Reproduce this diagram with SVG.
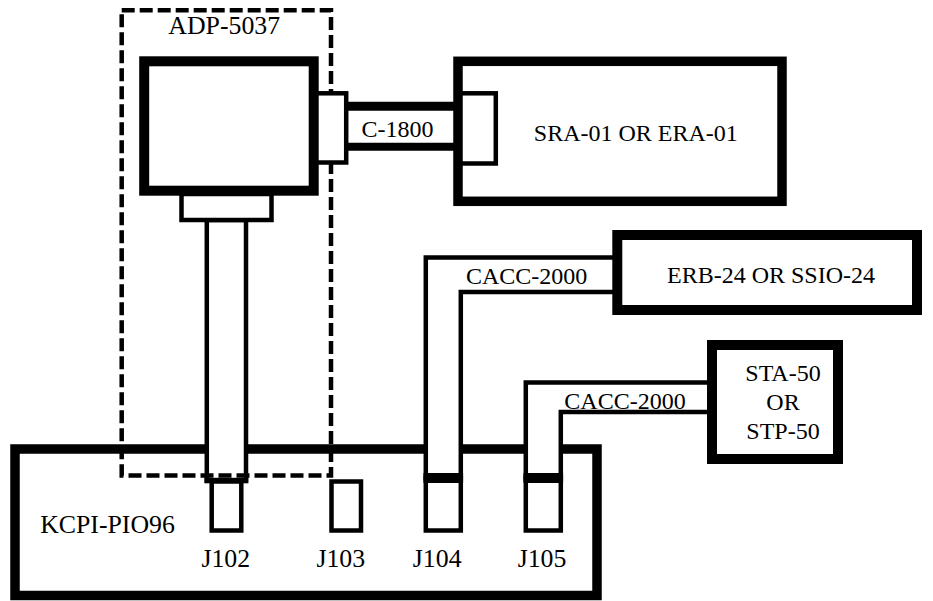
<svg xmlns="http://www.w3.org/2000/svg" width="933" height="601" viewBox="0 0 933 601">
<style>
.thick{fill:#fff;stroke:#000;stroke-width:10}
.thin{fill:#fff;stroke:#000;stroke-width:4.5}
.open{fill:none;stroke:#000;stroke-width:4.5}
.dash{fill:none;stroke:#000;stroke-width:4.5;stroke-dasharray:13 5}
text{font-family:"Liberation Serif","DejaVu Serif",serif;fill:#000;text-anchor:middle}
.t{font-size:24px}
.tb{font-size:25.8px}
</style>
<rect width="933" height="601" fill="#fff"/>
<g id="kcpi-pio96">
  <rect class="thick" x="15" y="449" width="582" height="146.5" style="stroke-width:9.5"/>
  <text class="tb" x="107.5" y="532.5">KCPI-PIO96</text>
</g>
<g id="connectors">
  <rect class="thin" x="206.8" y="220" width="39.2" height="260.5"/>
  <rect x="204.5" y="477.8" width="43.8" height="5.5" fill="#000"/>
  <polygon class="thin" points="425.8,478 425.8,257.5 617,257.5 617,292 460.8,292 460.8,478"/>
  <text class="t" x="526.7" y="284">CACC-2000</text>
  <polygon class="thin" points="525.8,478 525.8,382.5 712,382.5 712,412 560.8,412 560.8,478"/>
  <text class="t" x="625" y="408.5">CACC-2000</text>
  <line x1="346" y1="106.3" x2="458" y2="106.3" stroke="#000" stroke-width="9"/>
  <line x1="346" y1="146.8" x2="458" y2="146.8" stroke="#000" stroke-width="8"/>
  <text class="t" x="397.5" y="137.3">C-1800</text>
</g>
<g id="adp-5037">
  <rect class="dash" x="121.7" y="10.3" width="209.3" height="465.2"/>
  <text class="tb" x="224.2" y="34">ADP-5037</text>
  <rect class="thin" x="181.5" y="194" width="90" height="26"/>
  <rect class="thin" x="315" y="93.3" width="31.2" height="69.2"/>
  <rect class="thick" x="144.2" y="61.3" width="169.5" height="129.4"/>
</g>
<g id="j102">
  <rect class="thin" x="211.7" y="481.5" width="29.6" height="49"/>
  <text class="tb" x="225.8" y="566.7">J102</text>
</g>
<g id="j103">
  <rect class="thin" x="331.5" y="481.5" width="29.5" height="49"/>
  <text class="tb" x="340.8" y="566.7">J103</text>
</g>
<g id="j104">
  <rect class="open" x="425.8" y="478" width="35" height="52.5"/>
  <rect x="423.5" y="473" width="39.6" height="10" fill="#000"/>
  <text class="tb" x="437.2" y="566.7">J104</text>
</g>
<g id="j105">
  <rect class="open" x="525.8" y="478" width="35" height="52.5"/>
  <rect x="523.5" y="473" width="39.6" height="10" fill="#000"/>
  <text class="tb" x="542" y="566.7">J105</text>
</g>
<g id="sra-01">
  <rect class="thick" x="458" y="61.3" width="324" height="140" style="stroke-width:9.5"/>
  <rect class="open" x="458" y="93.3" width="37.8" height="70.2"/>
  <text class="t" x="635.8" y="140.7">SRA-01 OR ERA-01</text>
</g>
<g id="erb-24">
  <rect class="thick" x="617.3" y="235" width="299.7" height="75"/>
  <text class="t" x="771" y="283.3">ERB-24 OR SSIO-24</text>
</g>
<g id="sta-50">
  <rect class="thick" x="712" y="345" width="126" height="114"/>
  <text class="t" x="783" y="380.7">STA-50</text>
  <text class="t" x="783" y="410">OR</text>
  <text class="t" x="783" y="439.3">STP-50</text>
</g>
</svg>
